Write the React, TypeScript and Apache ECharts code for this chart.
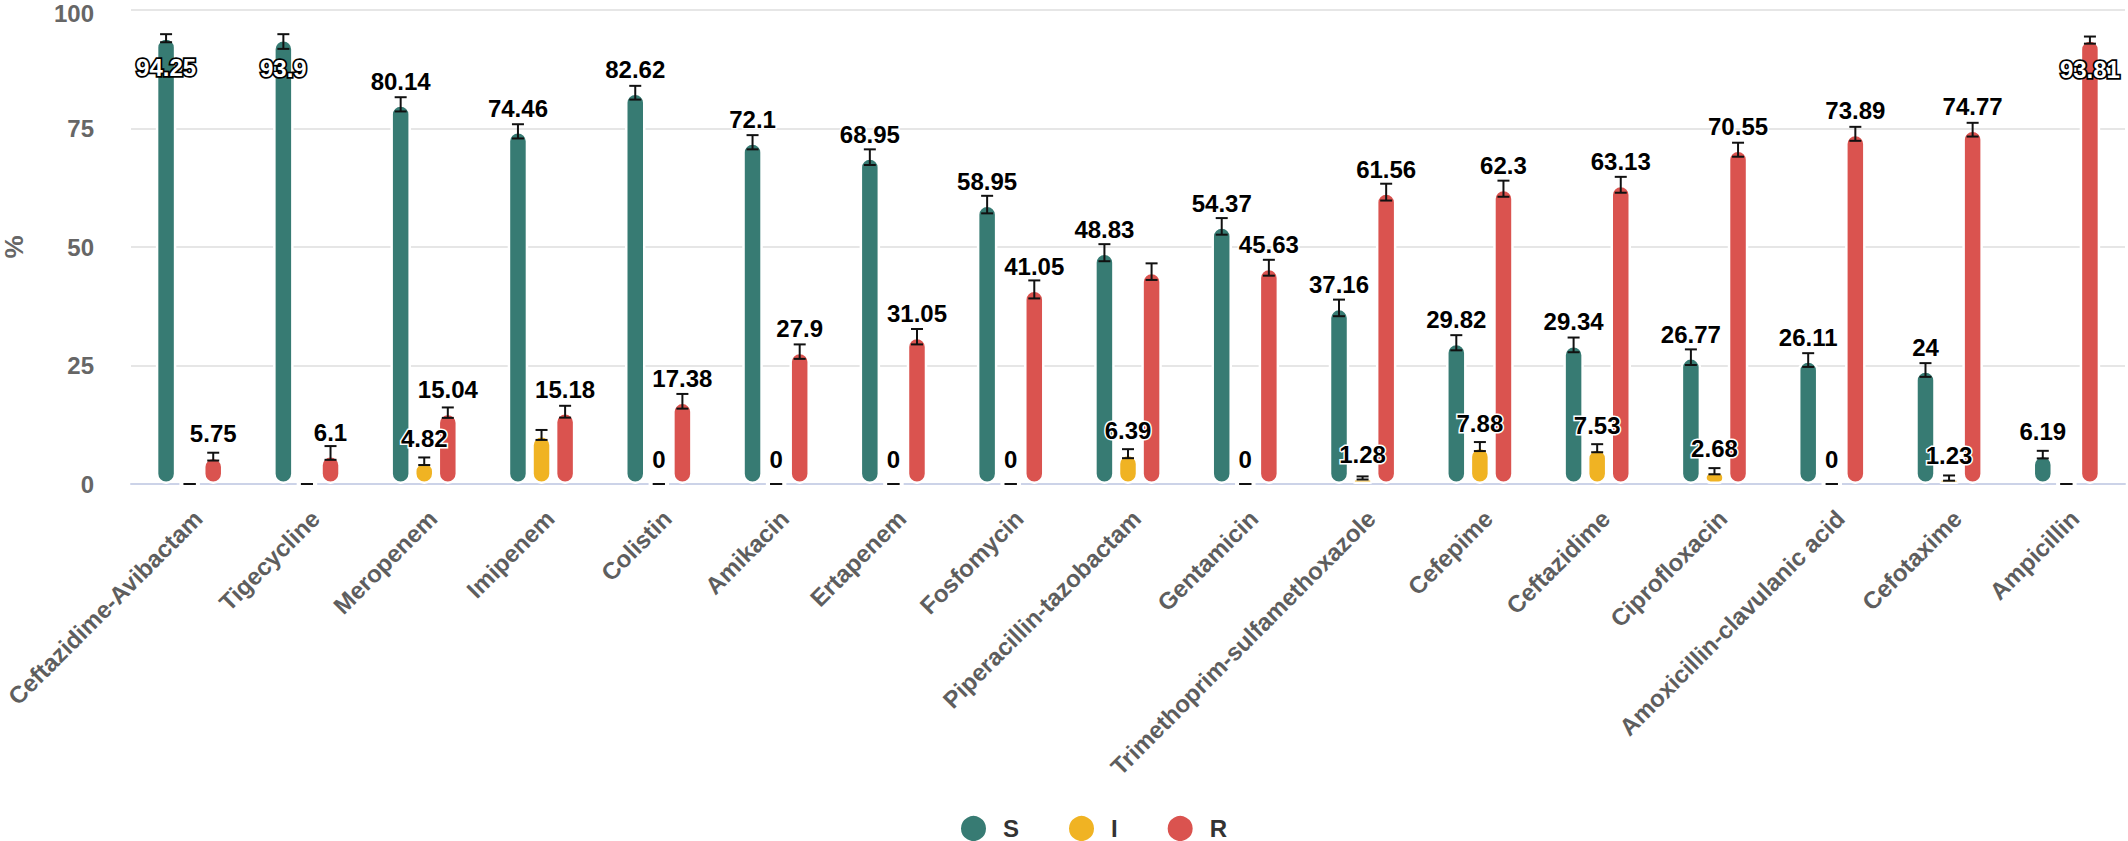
import React, { useEffect, useRef } from "react";
import * as echarts from "echarts";

const categories = [
  "Ceftazidime-Avibactam", "Tigecycline", "Meropenem", "Imipenem", "Colistin",
  "Amikacin", "Ertapenem", "Fosfomycin", "Piperacillin-tazobactam", "Gentamicin",
  "Trimethoprim-sulfamethoxazole", "Cefepime", "Ceftazidime", "Ciprofloxacin",
  "Amoxicillin-clavulanic acid", "Cefotaxime", "Ampicillin",
];

const sValues = [94.25, 93.9, 80.14, 74.46, 82.62, 72.1, 68.95, 58.95, 48.83, 54.37, 37.16, 29.82, 29.34, 26.77, 26.11, 24, 6.19];
const sLow = [93.2, 91.8, 78.6, 72.9, 81.1, 70.6, 67.3, 57.1, 47.0, 52.6, 35.4, 28.2, 27.8, 25.1, 24.7, 22.6, 5.4];
const sHigh = [94.9, 94.9, 81.6, 75.9, 84.0, 73.6, 70.6, 60.8, 50.6, 56.1, 38.9, 31.4, 30.9, 28.4, 27.6, 25.5, 7.0];

const iValues = [0, 0, 4.82, 10.36, 0, 0, 0, 0, 6.39, 0, 1.28, 7.88, 7.53, 2.68, 0, 1.23, 0];
const iLow = [0, 0, 4.0, 9.3, 0, 0, 0, 0, 5.45, 0, 0.95, 6.95, 6.7, 2.05, 0, 0.7, 0];
const iHigh = [0, 0, 5.6, 11.4, 0, 0, 0, 0, 7.35, 0, 1.6, 8.85, 8.4, 3.35, 0, 1.8, 0];

const rValues = [5.75, 6.1, 15.04, 15.18, 17.38, 27.9, 31.05, 41.05, 44.78, 45.63, 61.56, 62.3, 63.13, 70.55, 73.89, 74.77, 93.81];
const rLow = [4.95, 5.1, 13.95, 14.0, 15.9, 26.4, 29.45, 39.15, 43.05, 43.95, 59.8, 60.6, 61.45, 69.05, 72.4, 73.3, 92.9];
const rHigh = [6.6, 8.0, 16.15, 16.5, 19.0, 29.45, 32.7, 42.95, 46.55, 47.3, 63.35, 64.0, 64.8, 72.0, 75.35, 76.2, 94.4];

const yTicks = [0, 25, 50, 75, 100];
const seriesNames = ["S", "I", "R"];
const seriesColors = ["#377b73", "#f0b323", "#da534f"];

// labels drawn inside the bar top / hidden (overlapping) in the reference
const insideLabels: [string, number][] = [["S", 0], ["S", 1], ["R", 16]];
const hiddenLabels: [string, number][] = [["I", 0], ["I", 1], ["I", 3], ["R", 8], ["I", 16]];

const FONT = "'Liberation Sans', Arial, Helvetica, sans-serif";
const BAR_W = 20.5;
const BAR_GAP = 0.15;

export default function App() {
  const ref = useRef<HTMLDivElement>(null);

  useEffect(() => {
    if (!ref.current) return;
    const chart = echarts.init(ref.current, null, { renderer: "svg" });

    const valueSets = [sValues, iValues, rValues];
    const lows = [sLow, iLow, rLow];
    const highs = [sHigh, iHigh, rHigh];

    const has = (list: [string, number][], n: string, i: number) =>
      list.some(([a, b]) => a === n && b === i);

    const barSeries = seriesNames.map((name, k) => ({
      name,
      type: "bar",
      barWidth: BAR_W,
      barGap: `${BAR_GAP * 100}%`,
      z: 2,
      itemStyle: {
        color: seriesColors[k],
        borderColor: "#ffffff",
        borderWidth: 2.5,
        borderRadius: 9,
      },
      label: {
        show: true,
        position: "top",
        distance: 11,
        fontSize: 24,
        fontWeight: "bold",
        fontFamily: FONT,
        color: "#000",
        textBorderColor: "#fff",
        textBorderWidth: 3,
        formatter: (p: any) => String(p.value),
      },
      data: valueSets[k].map((v, i) => {
        if (has(hiddenLabels, name, i)) return { value: v, label: { show: false } };
        if (has(insideLabels, name, i))
          return {
            value: v,
            label: {
              show: true,
              position: "insideTop",
              distance: 18,
              color: "#fff",
              textBorderColor: "#000",
              textBorderWidth: 3.5,
            },
          };
        return v;
      }),
    }));

    const errSeries = seriesNames.map((name, k) => ({
      name: name + "-err",
      type: "custom",
      z: 5,
      silent: true,
      encode: { x: 0, y: [1, 2] },
      data: categories.map((_, i) => [i, lows[k][i], highs[k][i]]),
      renderItem: (params: any, api: any) => {
        const idx = api.value(0);
        const lo = api.coord([idx, api.value(1)]);
        const hi = api.coord([idx, api.value(2)]);
        const step = BAR_W * (1 + BAR_GAP);
        const cx = lo[0] + (k - 1) * step;
        const half = 6;
        const st = { stroke: "#111", lineWidth: 2 };
        return {
          type: "group",
          children: [
            { type: "line", shape: { x1: cx, y1: hi[1], x2: cx, y2: lo[1] }, style: st },
            { type: "line", shape: { x1: cx - half, y1: hi[1], x2: cx + half, y2: hi[1] }, style: st },
            { type: "line", shape: { x1: cx - half, y1: lo[1], x2: cx + half, y2: lo[1] }, style: st },
          ],
        };
      },
    }));

    const yMax = yTicks[yTicks.length - 1];

    chart.setOption({
      animation: false,
      backgroundColor: "#ffffff",
      textStyle: { fontFamily: FONT },
      grid: {
        left: 131,
        right: 3,
        top: 10,
        bottom: 357,
        containLabel: false,
        outerBoundsMode: "none",
      },
      legend: {
        data: seriesNames,
        left: 954,
        top: 809,
        icon: "circle",
        itemWidth: 27,
        itemHeight: 27,
        itemGap: 48,
        textStyle: {
          fontSize: 24,
          fontWeight: "bold",
          color: "#333",
          fontFamily: FONT,
          padding: [0, 0, 0, 11],
        },
      },
      xAxis: {
        type: "category",
        data: categories,
        axisLine: { lineStyle: { color: "#ccd3e8", width: 2 } },
        axisTick: { length: 20, lineStyle: { color: "#ccd3e8", width: 2 } },
        axisLabel: {
          interval: 0,
          rotate: 45,
          margin: 22,
          verticalAlign: "top",
          fontSize: 24,
          fontWeight: "bold",
          color: "#5e5e5e",
          fontFamily: FONT,
        },
      },
      yAxis: {
        type: "value",
        min: yTicks[0],
        max: yMax,
        interval: 25,
        name: "%",
        nameLocation: "middle",
        nameGap: 104,
        nameTextStyle: { fontSize: 26, fontWeight: "bold", color: "#666", fontFamily: FONT },
        axisLine: { show: false },
        axisTick: { show: false },
        axisLabel: {
          margin: 37,
          fontSize: 24,
          fontWeight: "bold",
          color: "#666",
          fontFamily: FONT,
          formatter: (v: number) => (v === yMax ? `{t|${v}}` : `${v}`),
          rich: {
            t: {
              fontSize: 24,
              fontWeight: "bold",
              color: "#666",
              fontFamily: FONT,
              padding: [7, 0, 0, 0],
            },
          },
        },
        splitLine: { lineStyle: { color: "#e6e6e6", width: 2 } },
      },
      series: [...barSeries, ...errSeries],
    });

    return () => chart.dispose();
  }, []);

  return (
    <div
      ref={ref}
      style={{ position: "absolute", left: 0, top: 0, width: "2128px", height: "841px" }}
    />
  );
}
